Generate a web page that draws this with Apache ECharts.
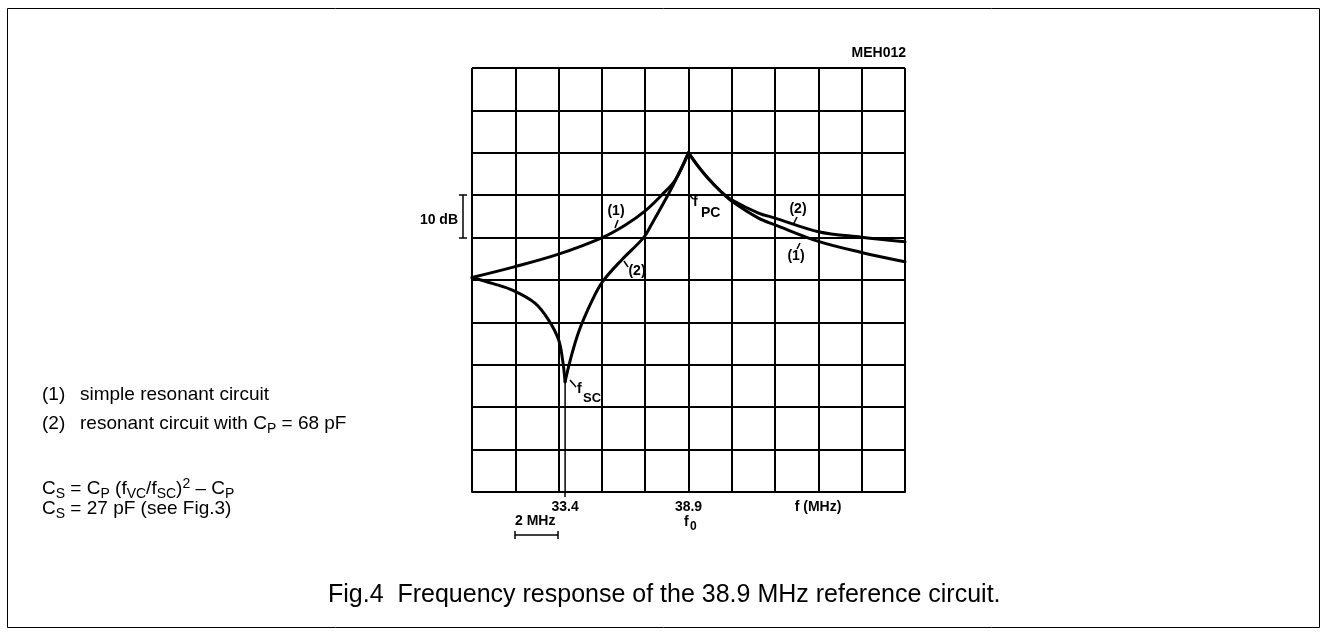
<!DOCTYPE html>
<html><head><meta charset="utf-8">
<script src="https://cdn.jsdelivr.net/npm/echarts@6/dist/echarts.min.js"></script>
<style>html,body{margin:0;padding:0;background:#fff}#c{width:1327px;height:635px}</style>
</head><body><div id="c"></div>
<script>
// ---- data (frequency in MHz, response in dB relative to the peak) ----
// Curve (1): simple resonant circuit
const freq1 = [29.25, 31.13, 33.11, 35.06, 36.07, 36.97, 37.70, 38.31, 38.9, 39.35, 39.79, 40.38, 40.8, 42.02, 42.76, 44.69, 46.61, 48.55];
const gain1 = [-29.4, -26.9, -23.9, -20.0, -17.1, -13.7, -10.0, -6.4, 0, -3.3, -6.1, -9.3, -11.3, -15.4, -17.0, -20.9, -23.5, -25.7];
// Curve (2): resonant circuit with Cp = 68 pF
const freq2 = [29.25, 30.15, 31.1, 32.07, 32.66, 33.11, 33.29, 33.4, 33.63, 34.0, 34.59, 35.07, 35.93, 36.9, 37.25, 37.56, 37.96, 38.31, 38.9, 39.35, 39.79, 40.38, 40.8, 42.02, 42.76, 44.69, 46.61, 48.55];
const gain2 = [-29.4, -30.8, -32.5, -35.5, -39.4, -44.1, -48.9, -54.0, -48.9, -42.3, -35.0, -30.4, -25.2, -20.0, -16.9, -14.0, -10.2, -6.6, 0, -3.3, -6.1, -9.3, -11.0, -14.2, -15.4, -18.6, -19.9, -21.0];
// cusp frequencies (f_SC and f_PC)
const cusps = [33.4, 38.9];
// labelled frequencies on the axis
const axisLabelValues = [33.4, 38.9];
const fscFreq = 33.4;
// axis ranges
const xRange = [29.25, 48.55];
const yRange = [-80, 20];

const FONT = '"Liberation Sans", Arial, Helvetica, sans-serif';

function segments(fx, gy) {
  const segs = []; let cur = [];
  for (let i = 0; i < fx.length; i++) {
    cur.push([fx[i], gy[i]]);
    if (cusps.includes(fx[i]) && i > 0 && i < fx.length - 1) { segs.push(cur); cur = [[fx[i], gy[i]]]; }
  }
  segs.push(cur);
  return segs;
}
const curveStyle = {color: '#000', width: 3, cap: 'round', join: 'round'};
const series = [];
[[freq1, gain1], [freq2, gain2]].forEach(([f, g]) => {
  segments(f, g).forEach(seg => series.push({
    type: 'line', data: seg, smooth: 0.35, symbol: 'none',
    lineStyle: curveStyle, silent: true, animation: false, xAxisIndex: 0, yAxisIndex: 0
  }));
});
series.push({
  type: 'line', data: [[fscFreq, Math.min(...gain2)], [fscFreq, yRange[0]]], symbol: 'none',
  lineStyle: {color: '#000', width: 1.5}, silent: true, animation: false
});

function t(x, y, text, o) {
  return {type: 'text', x, y, silent: true, style: Object.assign({
    text, fill: '#000', fontFamily: FONT, fontSize: 14, fontWeight: 'bold', align: 'center', verticalAlign: 'middle'
  }, o || {})};
}
function ln(x1, y1, x2, y2, w) {
  return {type: 'line', silent: true, shape: {x1, y1, x2, y2}, style: {stroke: '#000', lineWidth: w || 1.5}};
}
const legRich = {
  a: {fontSize: 19, lineHeight: 24, fontFamily: FONT, fill: '#000'},
  s: {fontSize: 14, lineHeight: 14, verticalAlign: 'bottom', fontFamily: FONT, fill: '#000'},
  p: {fontSize: 14, lineHeight: 14, verticalAlign: 'top', fontFamily: FONT, fill: '#000'}
};
function leg(x, y, text) {
  return {type: 'text', x, y, silent: true, style: {text, rich: legRich, align: 'left', verticalAlign: 'middle', fontFamily: FONT, fontSize: 19, fill: '#000'}};
}

const graphics = [
  {type: 'rect', silent: true, shape: {x: 7.5, y: 8.5, width: 1312, height: 619}, style: {fill: 'none', stroke: '#000', lineWidth: 1}},
  t(906, 53, 'MEH012', {align: 'right'}),
  // 10 dB bracket
  t(458, 220, '10 dB', {align: 'right'}),
  ln(463, 195, 463, 238), ln(459, 195, 467, 195), ln(459, 238, 467, 238),
  // curve labels
  t(616, 211, '(1)'), ln(618, 220, 615, 228),
  t(637, 271, '(2)'), ln(624, 261, 628, 267),
  t(798, 209, '(2)'), ln(797, 217, 793, 225),
  t(796, 256, '(1)'), ln(800, 243, 797, 249),
  // f_PC
  t(693, 202, 'f', {align: 'left'}), t(701, 213, 'PC', {align: 'left'}), ln(689, 194, 693, 199),
  // f_SC
  t(577, 389, 'f', {align: 'left'}), t(583, 398, 'SC', {align: 'left', fontSize: 13}), ln(570, 380, 576, 387),
  // f0 under 38.9
  t(684, 522, 'f', {align: 'left'}), t(690, 527, '0', {align: 'left', fontSize: 12}),
  t(818, 507, 'f (MHz)'),
  // 2 MHz scale
  t(515, 521, '2 MHz', {align: 'left'}),
  ln(515, 535, 558, 535), ln(515, 531, 515, 539), ln(558, 531, 558, 539),
  // left legend
  leg(42, 395, '{a|(1)}'), leg(80, 395, '{a|simple resonant circuit}'),
  leg(42, 424, '{a|(2)}'), leg(80, 424, '{a|resonant circuit with C}{s|P}{a| = 68 pF}'),
  leg(42, 489, '{a|C}{s|S}{a| = C}{s|P}{a| (f}{s|VC}{a|/f}{s|SC}{a|)}{p|2}{a| \u2013 C}{s|P}'),
  leg(42, 509, '{a|C}{s|S}{a| = 27 pF (see Fig.3)}'),
  // caption
  {type: 'text', x: 328, y: 595, silent: true, style: {text: 'Fig.4  Frequency response of the 38.9 MHz reference circuit.', fontFamily: FONT, fontSize: 25, fill: '#000', align: 'left', verticalAlign: 'middle'}}
];

const chart = echarts.init(document.getElementById('c'));
chart.setOption({
  animation: false,
  backgroundColor: '#fff',
  grid: {left: 472, right: 422, top: 68, bottom: 143},
  xAxis: [
    {type: 'value', min: xRange[0], max: xRange[1], position: 'bottom',
     axisLine: {show: true, onZero: false, lineStyle: {color: '#000', width: 2}},
     axisTick: {show: true, customValues: [fscFreq], length: 5, lineStyle: {color: '#000', width: 1.5}},
     axisLabel: {show: true, customValues: axisLabelValues, formatter: v => v.toFixed(1), color: '#000', fontFamily: FONT, fontSize: 14, fontWeight: 'bold', margin: 8},
     splitLine: {show: false}},
    {type: 'value', min: 0, max: 10, interval: 1, position: 'top',
     axisLine: {show: false}, axisTick: {show: false}, axisLabel: {show: false},
     splitLine: {show: true, lineStyle: {color: '#000', width: 2}}}
  ],
  yAxis: {type: 'value', min: yRange[0], max: yRange[1], interval: 10,
    axisLine: {show: false}, axisTick: {show: false}, axisLabel: {show: false},
    splitLine: {show: true, lineStyle: {color: '#000', width: 2}}},
  series,
  graphic: graphics
});
</script></body></html>
